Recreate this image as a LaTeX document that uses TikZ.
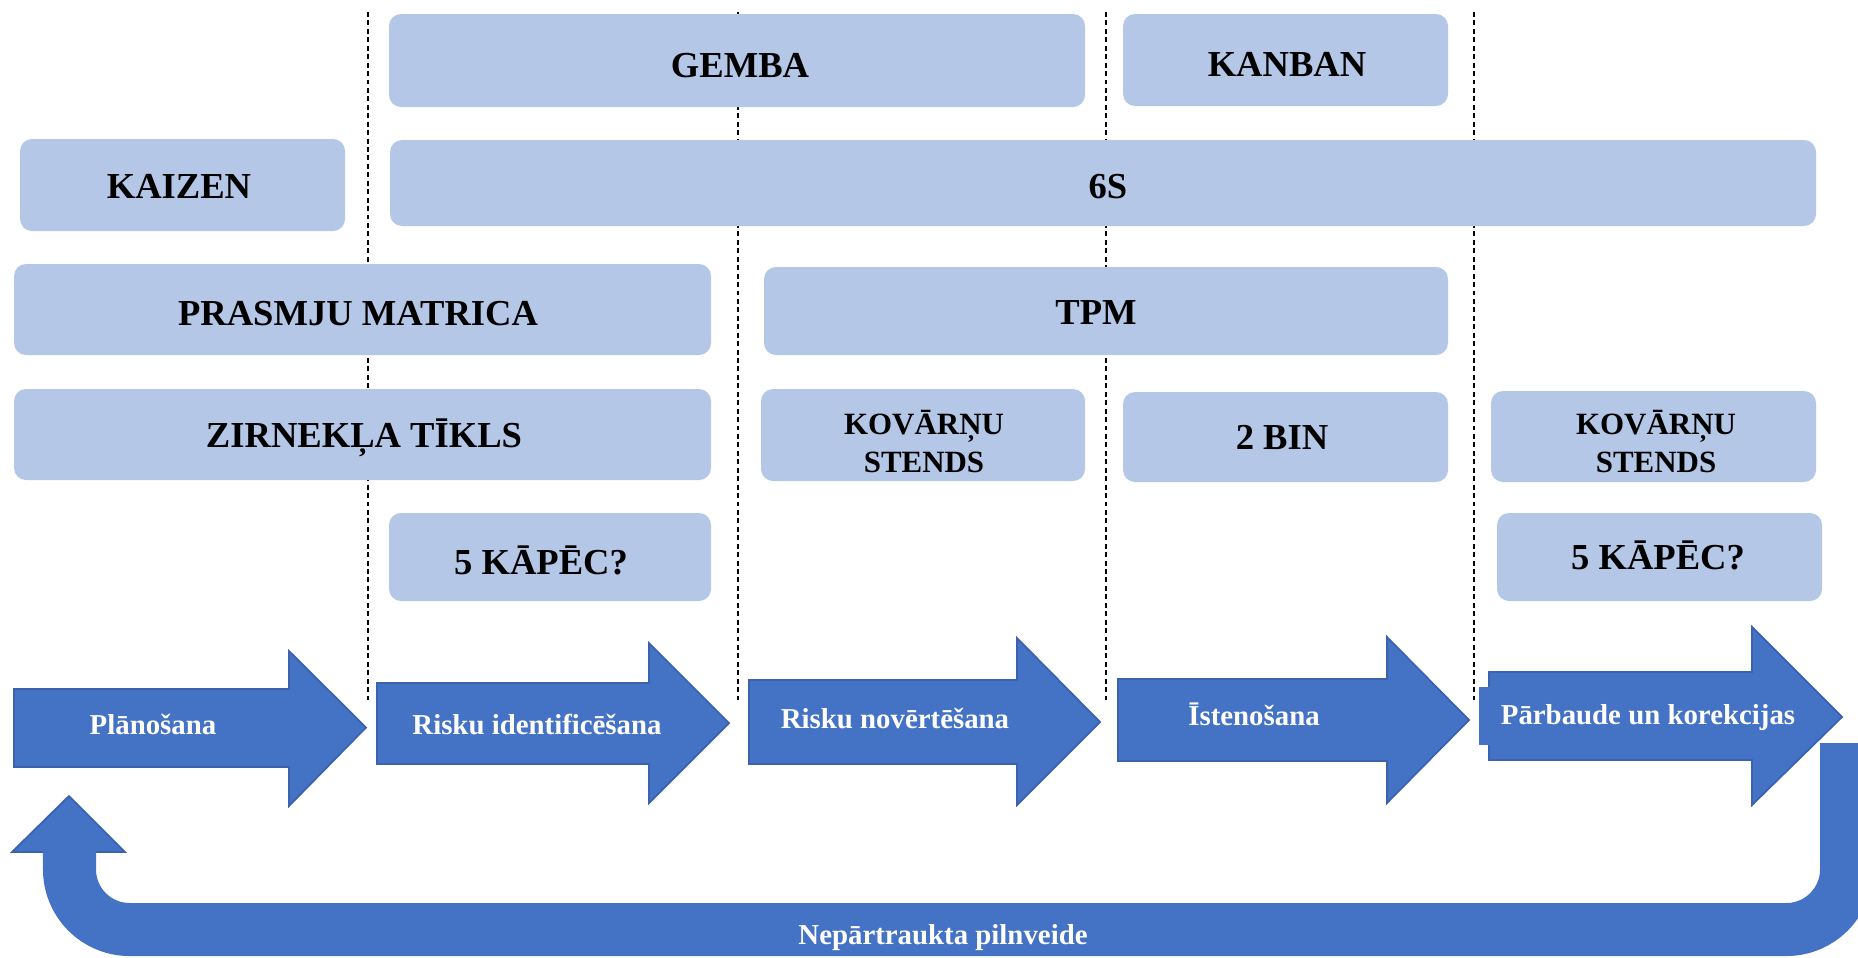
\documentclass[tikz,border=0pt]{standalone}
\usepackage{fontspec}
\setmainfont{Liberation Serif}
\definecolor{abl}{HTML}{4472C4}
\definecolor{abd}{HTML}{3A62AE}
\definecolor{lbox}{HTML}{B4C7E7}
\begin{document}
\begin{tikzpicture}[x=0.01cm,y=-0.01cm,
  box/.style={fill=lbox, rounded corners=0.12cm},
  blab/.style={font=\bfseries\fontsize{10.4}{12}\selectfont, inner sep=0pt, text height=6.8pt, text depth=0pt},
  klab/.style={font=\bfseries\fontsize{8.8}{10.8}\selectfont, inner sep=0pt, align=center},
  barrow/.style={fill=abl, draw=abd, line width=0.5pt, line join=miter},
  alab/.style={font=\bfseries\fontsize{8.2}{10}\selectfont, text=white, inner sep=0pt, anchor=base},
  sep/.style={draw=black, line width=0.45pt, dash pattern=on 1.4pt off 1pt}]
\useasboundingbox (0,0) rectangle (1858,957);
\fill[white] (0,0) rectangle (1858,957);
% separators
\foreach \xx in {368,738,1106,1474} \draw[sep] (\xx,12) -- (\xx,700);
% boxes
\path[box] (389,14) rectangle (1085,107);
\path[box] (1123,14) rectangle (1448,106);
\path[box] (20,139) rectangle (345,231);
\path[box] (390,140) rectangle (1816,226);
\path[box] (14,264) rectangle (711,355);
\path[box] (764,267) rectangle (1448,355);
\path[box] (14,389) rectangle (711,480);
\path[box] (761,389) rectangle (1085,481);
\path[box] (1123,392) rectangle (1448,482);
\path[box] (1491,391) rectangle (1816,482);
\path[box] (389,513) rectangle (711,601);
\path[box] (1497,513) rectangle (1822,601);
% box labels
\node[blab] (gemba) at (740,66) {GEMBA};
\node[blab] (kanban) at (1287,65) {KANBAN};
\node[blab] (kaizen) at (179,187) {KAIZEN};
\node[blab] (sixs) at (1108,187) {6S};
\node[blab] (prasmju) at (358,313.5) {PRASMJU MATRICA};
\node[blab] (tpm) at (1096,313) {TPM};
\node[blab] (zirn) at (364,436) {ZIRNEKĻA TĪKLS};
\node[klab] (kov1) at (924,442) {KOVĀRŅU\\STENDS};
\node[blab] (bin) at (1282,438) {2 BIN};
\node[klab] (kov2) at (1656,442) {KOVĀRŅU\\STENDS};
\node[blab] (kap1) at (541,562.5) {5 KĀPĒC?};
\node[blab] (kap2) at (1658,558) {5 KĀPĒC?};
% process arrows
\path[barrow] (14,689) -- (289,689) -- (289,651) -- (366,727.5) -- (289,806) -- (289,767) -- (14,767) -- cycle;
\path[barrow] (377,683) -- (649,683) -- (649,643) -- (729,723) -- (649,803) -- (649,764) -- (377,764) -- cycle;
\path[barrow] (749,680) -- (1017,680) -- (1017,638) -- (1100,722) -- (1017,805) -- (1017,764) -- (749,764) -- cycle;
\path[barrow] (1118,679) -- (1387,679) -- (1387,637) -- (1469,720) -- (1387,803) -- (1387,761) -- (1118,761) -- cycle;
\path[barrow] (1489,672) -- (1752,672) -- (1752,627) -- (1842,717) -- (1752,805) -- (1752,760) -- (1489,760) -- cycle;
\fill[abl] (1479,687) rectangle (1812,745);
% return arrow
\path[fill=abl, draw=abd, line width=0.5pt] (12,852) -- (69,796) -- (125,852) -- cycle;
\begin{scope}
\clip (0,0) rectangle (1858,957);
\draw[abl, line width=0.53cm, rounded corners=0.6cm] (69.5,851) -- (69.5,929.5) -- (1846.5,929.5) -- (1846.5,743);
\end{scope}
% arrow labels
\node[alab] (plan) at (153,734) {Plānošana};
\node[alab] (ident) at (537,734) {Risku identificēšana};
\node[alab] (novert) at (895,728) {Risku novērtēšana};
\node[alab] (isten) at (1254,725) {Īstenošana};
\node[alab] (parb) at (1648,724) {Pārbaude un korekcijas};
\node[alab] (nep) at (943,944) {Nepārtraukta pilnveide};
\end{tikzpicture}
\end{document}
